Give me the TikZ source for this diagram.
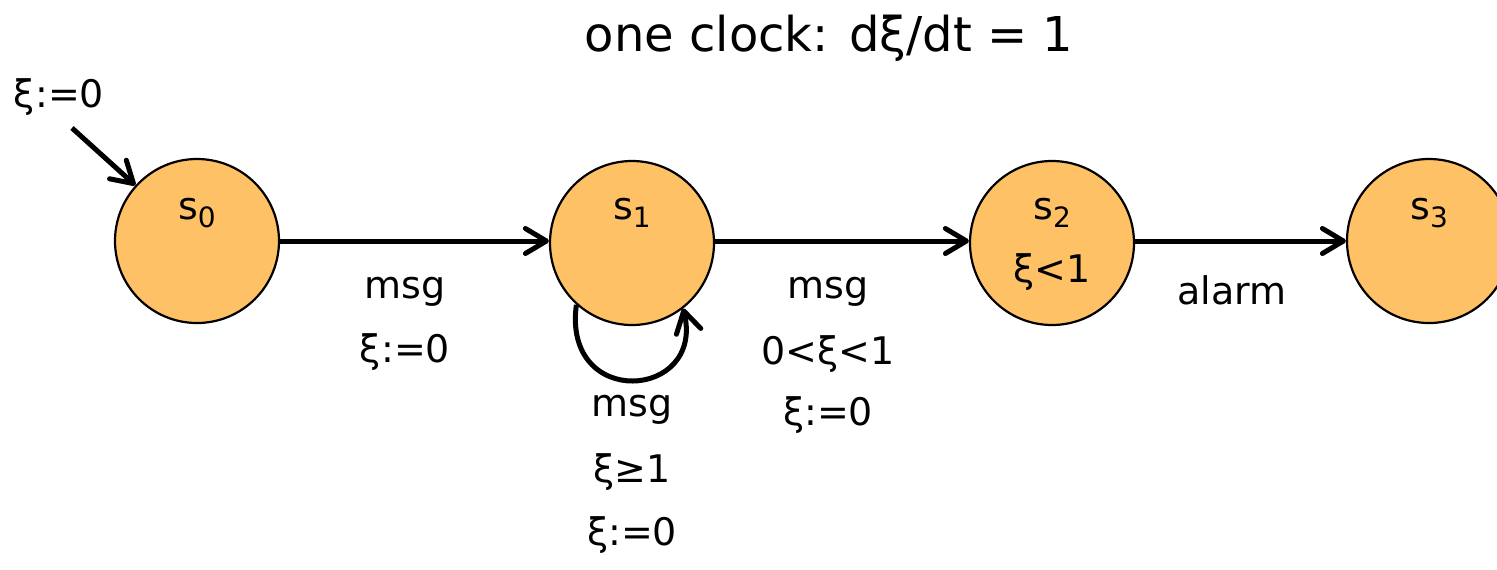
\documentclass[tikz,border=0pt]{standalone}
\usepackage{fontspec}
\setmainfont{DejaVu Sans}
\usetikzlibrary{arrows.meta}
\definecolor{stfill}{RGB}{255,193,102}
\newcommand{\sub}[1]{\raisebox{-0.4ex}{\fontsize{28}{32}\selectfont #1}}
\begin{document}
\begin{tikzpicture}[x=1pt,y=-1pt,
  state/.style={circle,draw=black,line width=2.2pt,fill=stfill,minimum size=164pt,inner sep=0pt},
  lbl/.style={font=\fontsize{38}{44}\selectfont,inner sep=0pt},
  edge/.style={line width=5pt,-{Straight Barb[length=21pt,width=25pt,line cap=round,line join=round]}}]
\useasboundingbox (0,0) rectangle (1497,570);
\node[state] (s0) at (197,241) {};
\node[state] (s1) at (632,243) {};
\node[state] (s2) at (1052,243) {};
\node[state] (s3) at (1429,241) {};
\node[lbl] (t0) at (197,213) {s\sub{0}};
\node[lbl] (t1) at (632,213) {s\sub{1}};
\node[lbl] (t2) at (1052,213) {s\sub{2}};
\node[lbl] (t3) at (1429,213) {s\sub{3}};
\node[lbl] (inv2) at (1052,272) {ξ<1};
\node[font=\fontsize{48}{54}\selectfont,inner sep=0pt] (title) at (829,38) {one clock: dξ/dt = 1};
\node[lbl] (init) at (59,97) {ξ:=0};
\coordinate (istart) at (72,128);
\draw[edge] (istart) -- (s0);
\draw[edge] (s0.east) -- (s1.west |- s0.east);
\draw[edge] (s1.east |- s0.east) -- (s2.west |- s0.east);
\draw[edge] (s2.east |- s0.east) -- (s3.west);
\draw[edge] (s1.-132) .. controls (562,410) and (705,400) .. (s1.-52);
\node[lbl] (a1) at (405,292) {msg};
\node[lbl] (a2) at (405,352) {ξ:=0};
\node[lbl] (b1) at (632,410) {msg};
\node[lbl] (b2) at (632,472) {ξ≥1};
\node[lbl] (b3) at (632,535) {ξ:=0};
\node[lbl] (c1) at (828,292) {msg};
\node[lbl] (c2) at (828,354) {0<ξ<1};
\node[lbl] (c3) at (828,415) {ξ:=0};
\node[lbl] (d1) at (1232,290) {alarm};
\end{tikzpicture}
\end{document}
